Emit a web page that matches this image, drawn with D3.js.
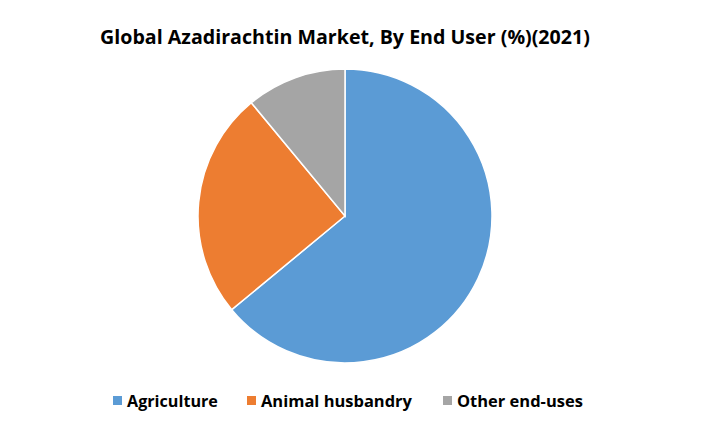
<!DOCTYPE html>
<html><head><meta charset="utf-8">
<script src="https://cdn.jsdelivr.net/npm/d3@7"></script>
<style>body{margin:0;background:#fff}svg{display:block}</style>
</head><body>
<svg id="c" width="715" height="446"></svg>
<script>
const categories = ["Agriculture", "Animal husbandry", "Other end-uses"];
const values = [64, 25, 11];
const colors = ["#5B9BD5", "#ED7D31", "#A5A5A5"];
const title = "Global Azadirachtin Market, By End User (%)(2021)";

const svg = d3.select("#c");
const W = 715, H = 446;
const cx = 345, cy = 216, r = 147;
const font = "'Open Sans', 'Liberation Sans', sans-serif";

const t = svg.append("text").attr("x", 345).attr("y", 44).attr("text-anchor", "middle")
  .attr("font-family", font).attr("font-weight", "bold").attr("font-size", 20).attr("fill", "#000").text(title);
// fit to reference width
const tw = t.node().getComputedTextLength();
t.attr("font-size", 20 * 490 / tw);

const pie = d3.pie().sort(null).value(d => d)(values);
const arc = d3.arc().innerRadius(0).outerRadius(r);
const color = d3.scaleOrdinal().domain(categories).range(colors);
svg.append("g").attr("transform", `translate(${cx},${cy})`)
  .selectAll("path").data(pie).join("path")
  .attr("d", arc).attr("fill", (d, i) => color(categories[i]))
  .attr("stroke", "#fff").attr("stroke-width", 1.5);

const legX = [113, 247, 443];
const legW = [91, 151, 126];
const lg = svg.append("g");
categories.forEach((c, i) => {
  lg.append("rect").attr("x", legX[i]).attr("y", 396).attr("width", 9).attr("height", 9).attr("fill", color(c));
  const tx = lg.append("text").attr("x", legX[i] + 14).attr("y", 406.5)
    .attr("font-family", font).attr("font-weight", "bold").attr("font-size", 16).attr("fill", "#000").text(c);
  const w = tx.node().getComputedTextLength();
  tx.attr("font-size", 16 * legW[i] / w);
});
</script>
</body></html>
